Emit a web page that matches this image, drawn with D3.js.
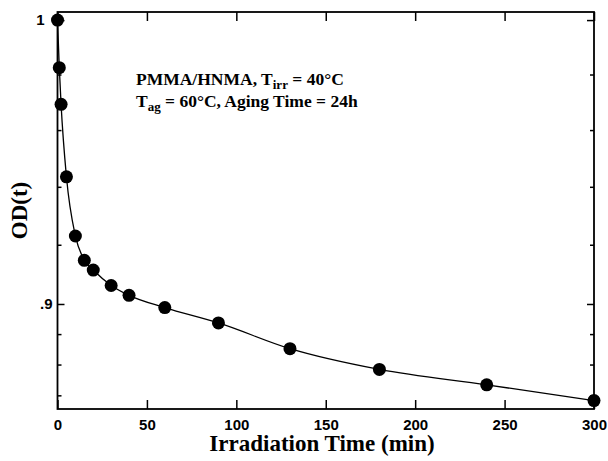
<!DOCTYPE html>
<html>
<head>
<meta charset="utf-8">
<script src="https://cdn.jsdelivr.net/npm/d3@7"></script>
<style>
  body { margin: 0; background: #fff; }
  .tick text { font-family: "Liberation Sans", Arial, sans-serif; font-weight: bold; font-size: 15px; fill: #000; }
</style>
</head>
<body>
<svg id="chart" width="608" height="461"></svg>
<script>
// irradiation time (min) and optical density
const times = [0, 1, 2, 5, 10, 15, 20, 30, 40, 60, 90, 130, 180, 240, 300];
const odValues = [1.0, 0.9825, 0.9692, 0.9435, 0.9230, 0.9147, 0.9114, 0.9062, 0.9029, 0.8988, 0.8937, 0.8852, 0.8784, 0.8734, 0.8683];

const xTicks = [0, 50, 100, 150, 200, 250, 300];
const yMajor = [1, 0.9];
const yMajorLabels = ["1", ".9"];
const yMinor = [0.98, 0.96, 0.94, 0.92, 0.89, 0.88, 0.87];

const svg = d3.select("#chart");
const mLeft = 57.5, mRight = 594, mTop = 12, mBottom = 409;

const x = d3.scaleLinear().domain([0, 300]).range([mLeft, mRight]);
const y = d3.scaleLog().domain([0.8656, 1.003]).range([mBottom, mTop]);

// frame
svg.append("rect")
  .attr("x", mLeft).attr("y", mTop)
  .attr("width", mRight - mLeft).attr("height", mBottom - mTop)
  .attr("fill", "none").attr("stroke", "#000").attr("stroke-width", 1.8);

// x axes (ticks point inward)
const xb = svg.append("g")
  .attr("transform", `translate(0,${mBottom})`)
  .call(d3.axisBottom(x).tickValues(xTicks).tickSize(-9).tickPadding(10).tickFormat(d3.format("d")));
const xt = svg.append("g")
  .attr("transform", `translate(0,${mTop})`)
  .call(d3.axisTop(x).tickValues(xTicks).tickSize(-9).tickFormat(""));

// y axes
const yl = svg.append("g")
  .attr("transform", `translate(${mLeft},0)`)
  .call(d3.axisLeft(y).tickValues(yMajor).tickSize(-7).tickPadding(5)
    .tickFormat((d, i) => yMajorLabels[i]));
// the "1" label sits clear of the first marker
yl.selectAll(".tick text").filter(d => d === 1).attr("x", -13);
const ylm = svg.append("g")
  .attr("transform", `translate(${mLeft},0)`)
  .call(d3.axisLeft(y).tickValues(yMinor).tickSize(-4).tickFormat(""));
const yr = svg.append("g")
  .attr("transform", `translate(${mRight},0)`)
  .call(d3.axisRight(y).tickValues(yMajor).tickSize(-7).tickFormat(""));
const yrm = svg.append("g")
  .attr("transform", `translate(${mRight},0)`)
  .call(d3.axisRight(y).tickValues(yMinor).tickSize(-4).tickFormat(""));

[xb, xt, yl, ylm, yr, yrm].forEach(g => {
  g.select(".domain").remove();
  g.selectAll(".tick line").attr("stroke", "#000").attr("stroke-width", 1.5);
});

// fitted curve
const pts = times.map((t, i) => [t, odValues[i]]);
svg.append("path")
  .datum(pts)
  .attr("fill", "none")
  .attr("stroke", "#000")
  .attr("stroke-width", 1.3)
  .attr("d", d3.line().x(d => x(d[0])).y(d => y(d[1])).curve(d3.curveMonotoneX));

// data points
svg.selectAll("circle.pt")
  .data(pts)
  .enter()
  .append("circle")
  .attr("class", "pt")
  .attr("cx", d => x(d[0]))
  .attr("cy", d => y(d[1]))
  .attr("r", 6.5)
  .attr("fill", "#000");

// axis titles
const serif = '"Liberation Serif", "Times New Roman", serif';
svg.append("text")
  .attr("x", 322).attr("y", 451)
  .attr("text-anchor", "middle")
  .attr("font-family", serif).attr("font-weight", "bold").attr("font-size", 23)
  .text("Irradiation Time (min)");

svg.append("text")
  .attr("transform", `translate(27,${(mTop + mBottom) / 2}) rotate(-90)`)
  .attr("text-anchor", "middle")
  .attr("font-family", serif).attr("font-weight", "bold").attr("font-size", 23)
  .text("OD(t)");

// annotation
const note = svg.append("g")
  .attr("font-family", serif).attr("font-weight", "bold").attr("font-size", 17.5);
const l1 = note.append("text").attr("x", 136).attr("y", 85);
l1.append("tspan").text("PMMA/HNMA, T");
l1.append("tspan").attr("font-size", 13).attr("dy", 4).text("irr");
l1.append("tspan").attr("dy", -4).text(" = 40°C");
const l2 = note.append("text").attr("x", 136).attr("y", 106.5);
l2.append("tspan").text("T");
l2.append("tspan").attr("font-size", 13).attr("dy", 4).text("ag");
l2.append("tspan").attr("dy", -4).text(" = 60°C, Aging Time = 24h");
</script>
</body>
</html>
